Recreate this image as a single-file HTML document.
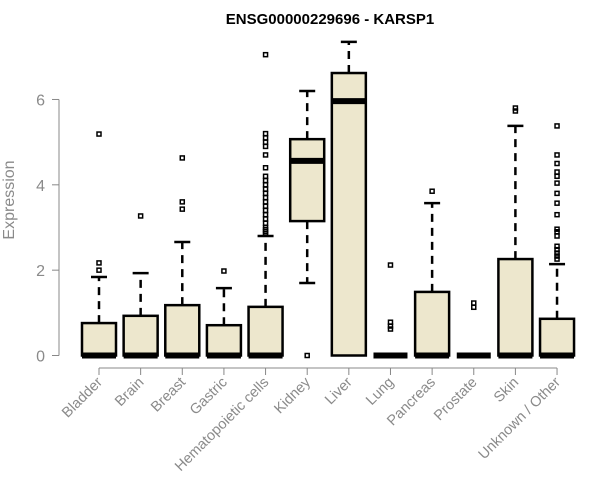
<!DOCTYPE html>
<html><head><meta charset="utf-8"><style>
body{margin:0;background:#fff}
svg{display:block;font-family:"Liberation Sans",Arial,sans-serif}
</style></head><body>
<svg id="c" width="600" height="500">
<text x="330" y="24" text-anchor="middle" font-weight="bold" font-size="15">ENSG00000229696 - KARSP1</text>
<text transform="translate(14,200) rotate(-90)" text-anchor="middle" font-size="16" fill="#8a8a8a">Expression</text>
<g id="plot"></g>
</svg>
<script>
const categories=["Bladder","Brain","Breast","Gastric","Hematopoietic cells","Kidney","Liver","Lung","Pancreas","Prostate","Skin","Unknown / Other"];
const lowerWhisker=[0,0,0,0,0,1.7,0,0,0,0,0,0];
const q1=[0,0,0,0,0,3.15,0,0,0,0,0,0];
const medians=[0,0,0,0,0,4.56,5.96,0,0,0,0,0];
const q3=[0.76,0.93,1.18,0.71,1.14,5.07,6.62,0,1.49,0,2.26,0.86];
const upperWhisker=[1.84,1.93,2.66,1.58,2.8,6.2,7.35,0,3.57,0,5.38,2.14];
const outliers=[[5.19,2.17,2.0],[3.27],[4.63,3.6,3.43],[1.98],
[7.05,5.2,5.1,5.0,4.9,4.7,4.4,4.2,4.1,4.0,3.9,3.8,3.7,3.6,3.5,3.4,3.3,3.2,3.1,3.0,2.95,2.9,2.85],
[0],[],[2.12,0.78,0.69,0.62],[3.85],[1.23,1.13],[5.8,5.73],
[5.38,4.7,4.5,4.3,4.2,4.04,3.8,3.57,3.3,2.96,2.9,2.8,2.56,2.48,2.4,2.33,2.26]];
const yTicks=[0,2,4,6];

const NS="http://www.w3.org/2000/svg";
const g=document.getElementById("plot");
const y=v=>355.5-v*42.67;
const x=i=>99+i*41.64;
function mk(t,a){const e=document.createElementNS(NS,t);for(const k in a)e.setAttribute(k,a[k]);g.appendChild(e);return e;}
let ya=mk("line",{x1:59,x2:59,y1:y(6),y2:y(0),stroke:"#888"});


yTicks.forEach(t=>{
 let tk=mk("line",{x1:52,x2:59,y1:y(t),y2:y(t),stroke:"#888"});
 
 
 let tl=mk("text",{x:45,y:y(t)+6,"text-anchor":"end","font-size":16,fill:"#8a8a8a"});
 tl.textContent=t;
 
 
});
let xa=mk("line",{x1:x(0),x2:x(11),y1:368,y2:368,stroke:"#888"});


categories.forEach((c,i)=>{
 const cx=x(i),hw=17;
 let tk=mk("line",{x1:cx,x2:cx,y1:368,y2:375,stroke:"#888"});
 
 
 let tl=mk("text",{x:cx+4,y:383,"text-anchor":"end","font-size":14.5,fill:"#8a8a8a",transform:`rotate(-45 ${cx+4} 383)`});
 tl.textContent=c;
 
 
 if(upperWhisker[i]>q3[i]){
  let w=mk("line",{x1:cx,x2:cx,y1:y(q3[i]),y2:y(upperWhisker[i]),stroke:"#000","stroke-width":2.5,"stroke-dasharray":"8,6"});
  
  
  let cap=mk("line",{x1:cx-8,x2:cx+8,y1:y(upperWhisker[i]),y2:y(upperWhisker[i]),stroke:"#000","stroke-width":2.5});
  
  
 }
 if(lowerWhisker[i]<q1[i]){
  let w=mk("line",{x1:cx,x2:cx,y1:y(q1[i]),y2:y(lowerWhisker[i]),stroke:"#000","stroke-width":2.5,"stroke-dasharray":"8,6"});
  
  
  let cap=mk("line",{x1:cx-8,x2:cx+8,y1:y(lowerWhisker[i]),y2:y(lowerWhisker[i]),stroke:"#000","stroke-width":2.5});
  
  
 }
 let b=mk("rect",{x:cx-hw,y:y(q3[i]),width:2*hw,height:Math.max(0,y(q1[i])-y(q3[i])),fill:"#ede7cd",stroke:"#000","stroke-width":2.5});
 
 
 let m=mk("line",{x1:cx-hw,x2:cx+hw,y1:y(medians[i]),y2:y(medians[i]),stroke:"#000","stroke-width":6});
 
 
 outliers[i].forEach(v=>{
  let o=mk("rect",{x:cx-2,y:y(v)-2,width:4,height:4,fill:"none",stroke:"#000","stroke-width":1.5});
  
  
 });
});
</script>
</body></html>
